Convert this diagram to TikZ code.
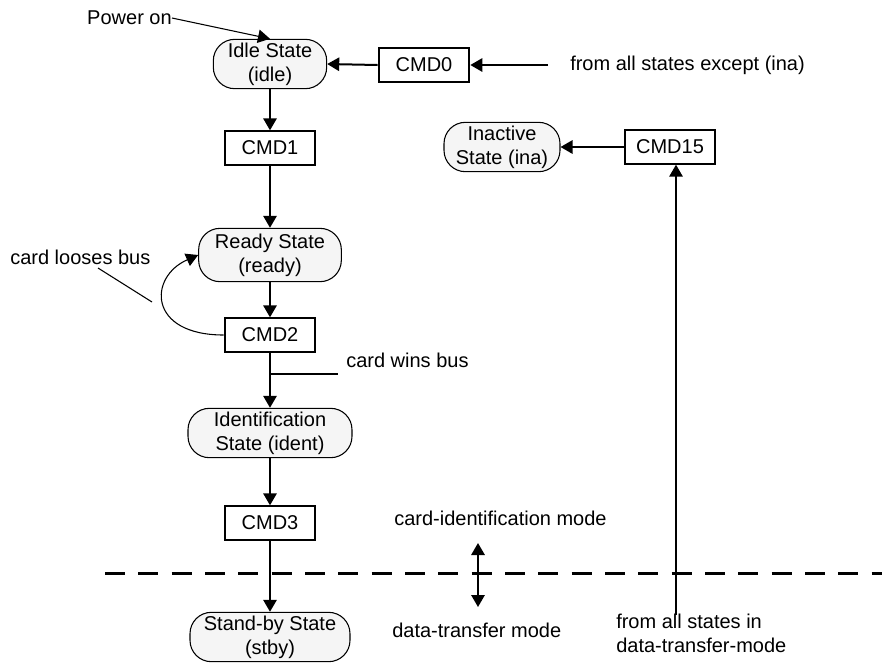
\documentclass[tikz,border=0pt]{standalone}
\usepackage{fontspec}
\setmainfont{Liberation Sans}
\usetikzlibrary{arrows.meta}
\newcommand{\diagfont}{\fontsize{15}{18}\selectfont}
\tikzset{
  statenode/.style={draw, line width=0.8pt, fill=gray!8, rounded corners=16pt, minimum height=37pt, inner sep=1pt, align=center, font=\diagfont},
  cmdbox/.style={draw, line width=1.5pt, fill=white, minimum width=68pt, minimum height=25pt, inner sep=1pt, font=\diagfont},
  note/.style={inner sep=0pt, font=\diagfont},
  fwd/.style={-{Triangle[length=9pt, width=10pt]}, line width=1.5pt},
  both/.style={{Triangle[length=9pt, width=10pt]}-{Triangle[length=9pt, width=10pt]}, line width=1.5pt},
  thinfwd/.style={-{Triangle[length=9pt, width=10pt]}, line width=0.8pt},
  modeline/.style={dashed, line width=2.25pt, dash pattern=on 15pt off 10pt},
}

\begin{document}
\begin{tikzpicture}[x=0.75pt, y=-0.75pt]
\useasboundingbox (0,0) rectangle (882,662);

%Nodes
\node[statenode, minimum width=85pt] (idle) at (270,64) {Idle State\\(idle)};
\node[cmdbox] (cmd0) at (424,65) {CMD0};
\node[cmdbox] (cmd1) at (270,148) {CMD1};
\node[statenode, minimum width=107pt, minimum height=40pt] (ready) at (270,255) {Ready State\\(ready)};
\node[cmdbox] (cmd2) at (270,335) {CMD2};
\node[statenode, minimum width=123pt] (ident) at (270,433) {Identification\\State (ident)};
\node[cmdbox] (cmd3) at (270,523) {CMD3};
\node[statenode, minimum width=120pt] (stby) at (270,637) {Stand-by State\\(stby)};
\node[statenode, minimum width=87pt] (ina) at (502,147) {Inactive\\State (ina)};
\node[cmdbox] (cmd15) at (670,147) {CMD15};

%Labels
\node[note, anchor=east] (poweron) at (172,18) {Power on};
\node[note, anchor=west] (exceptina) at (570,65) {from all states except (ina)};
\node[note, anchor=west] (looses) at (10,257) {card looses bus};
\node[note, anchor=west] (wins) at (346,360) {card wins bus};
\node[note, anchor=west] (identmode) at (394,518) {card-identification mode};
\node[note, anchor=west] (transfermode) at (392,630) {data-transfer mode};
\node[note, anchor=west, align=left] (fromtransfer) at (616,633) {from all states in\\data-transfer-mode};

\coordinate (exceptstart) at (548,65);
\coordinate (loosesa) at (98,268);
\coordinate (loosesb) at (152,302);
\coordinate (winsa) at (271,374);
\coordinate (winsb) at (338,374);
\coordinate (modetop) at (478,543);
\coordinate (modebot) at (478,607);
\coordinate (transferstart) at (676,615);
\coordinate (dashl) at (105,573);
\coordinate (dashr) at (882,573);

%Lines
\draw[thinfwd] (poweron.east) -- (idle.north);
\draw[fwd] (exceptstart) -- (cmd0.east);
\draw[fwd] (cmd0.west) -- (idle.east);
\draw[fwd] (idle.south) -- (cmd1.north);
\draw[fwd] (cmd1.south) -- (ready.north);
\draw[fwd] (ready.south) -- (cmd2.north);
\draw[thinfwd] (cmd2.west) .. controls +(-76,0) and +(-50,22) .. (ready.west);
\draw[line width=0.8pt] (loosesa) -- (loosesb);
\draw[fwd] (cmd2.south) -- (ident.north);
\draw[line width=1.5pt] (winsa) -- (winsb);
\draw[fwd] (ident.south) -- (cmd3.north);
\draw[fwd] (cmd3.south) -- (stby.north);
\draw[fwd] (cmd15.west) -- (ina.east);
\draw[fwd] (transferstart) -- (transferstart |- cmd15.south);
\draw[both] (modetop) -- (modebot);
\draw[modeline] (dashl) -- (dashr);
\end{tikzpicture}
\end{document}
